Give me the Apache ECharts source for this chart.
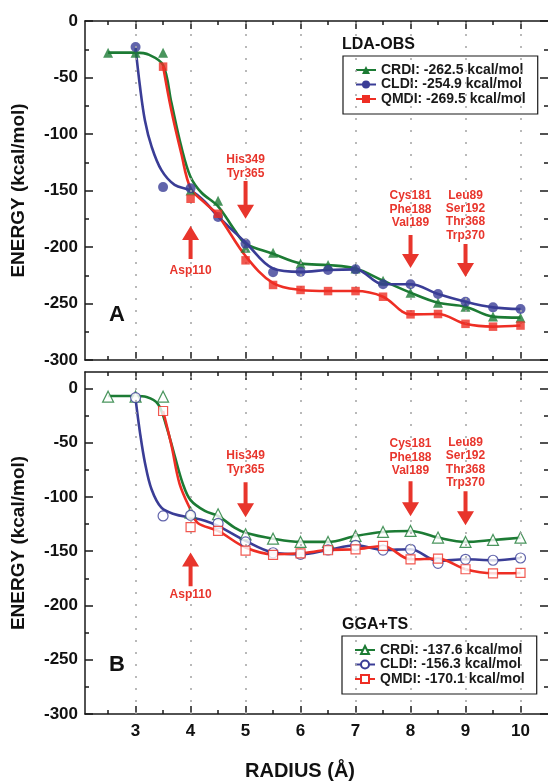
<!DOCTYPE html>
<html><head><meta charset="utf-8">
<script src="https://cdn.jsdelivr.net/npm/echarts@6/dist/echarts.min.js"></script>
<style>html,body{margin:0;padding:0;background:#fff}#c{width:548px;height:782px}</style>
</head><body><div id="c"></div>
<script>
// ---------- tick labels ----------
const xMajorTicks = [3, 4, 5, 6, 7, 8, 9, 10];
const xMinorTicks = [2.5, 3.5, 4.5, 5.5, 6.5, 7.5, 8.5, 9.5];
const yMajorTicks = [0, -50, -100, -150, -200, -250, -300];
const yMinorTicks = [-25, -75, -125, -175, -225, -275];

// ---------- Panel A (LDA-OBS) ----------
const namesA = ['CRDI: -262.5 kcal/mol', 'CLDI: -254.9 kcal/mol', 'QMDI: -269.5 kcal/mol'];
// markers
const aCrdiX = [2.5, 3, 3.5, 4, 4.5, 5, 5.5, 6, 6.5, 7, 7.5, 8, 8.5, 9, 9.5, 10];
const aCrdiY = [-28, -28, -28, -150, -159, -200.6, -205, -214.5, -216, -219, -229.8, -240.4, -249.3, -252.8, -261.6, -262.5];
const aCldiX = [3, 3.5, 4, 4.5, 5, 5.5, 6, 6.5, 7, 7.5, 8, 8.5, 9, 9.5, 10];
const aCldiY = [-23, -147, -148, -173.5, -197, -222.4, -222, -220.4, -219.8, -233, -233, -241.6, -248.4, -253.4, -254.9];
const aQmdiX = [3.5, 4, 4.5, 5, 5.5, 6, 6.5, 7, 7.5, 8, 8.5, 9, 9.5, 10];
const aQmdiY = [-40.4, -157.3, -170.6, -211.8, -233.6, -238, -239, -239, -244, -259.6, -259.3, -268, -270.5, -269.5];
// fitted curves
const aCrdiCurveX = [2.5, 3, 3.25, 3.5, 3.65, 3.83, 4, 4.2, 4.5, 4.8, 5, 5.5, 6, 6.5, 7, 7.5, 8, 8.5, 9, 9.5, 10];
const aCrdiCurveY = [-28, -28, -30, -39, -72, -111, -138, -152, -164, -185, -197, -206, -214.5, -216, -219, -229.8, -240.4, -249.3, -252.8, -261.6, -262.5];
const aCldiCurveX = [3, 3.08, 3.17, 3.29, 3.47, 3.71, 4, 4.26, 4.5, 5, 5.5, 6, 6.5, 7, 7.5, 8, 8.5, 9, 9.5, 10];
const aCldiCurveY = [-24, -58, -88, -111, -132, -145, -150, -160, -173, -196, -219, -222, -220.4, -219.8, -233, -233, -241.6, -248.4, -253.4, -254.9];
const aQmdiCurveX = [3.5, 3.65, 3.83, 4, 4.26, 4.5, 5, 5.5, 6, 6.5, 7, 7.5, 8, 8.5, 9, 9.5, 10];
const aQmdiCurveY = [-40, -79, -117, -148, -161, -172, -208, -232, -238, -239, -239, -244, -259.6, -259.3, -268, -270.5, -269.5];

// ---------- Panel B (GGA+TS) ----------
const namesB = ['CRDI: -137.6 kcal/mol', 'CLDI: -156.3 kcal/mol', 'QMDI: -170.1 kcal/mol'];
const bCrdiX = [2.5, 3, 3.5, 4, 4.5, 5, 5.5, 6, 6.5, 7, 7.5, 8, 8.5, 9, 9.5, 10];
const bCrdiY = [-7.7, -7.7, -7.7, -114.5, -116, -134.5, -138.5, -141.5, -141.5, -136, -132.3, -131.4, -137.5, -141.5, -139.7, -137.6];
const bCldiX = [3, 3.5, 4, 4.5, 5, 5.5, 6, 6.5, 7, 7.5, 8, 8.5, 9, 9.5, 10];
const bCldiY = [-8.6, -117.6, -117, -124.5, -141.5, -151.5, -153, -148.9, -144.6, -149, -148.3, -161.2, -157.5, -158.4, -156.3];
const bQmdiX = [3.5, 4, 4.5, 5, 5.5, 6, 6.5, 7, 7.5, 8, 8.5, 9, 9.5, 10];
const bQmdiY = [-20.9, -127.8, -131.4, -149.5, -153.5, -152, -149.2, -148.3, -145.2, -157.5, -156.9, -166.7, -170.4, -170.1];
const bCrdiCurveX = [2.5, 3, 3.2, 3.41, 3.56, 3.71, 3.86, 4, 4.26, 4.5, 4.8, 5, 5.5, 6, 6.5, 7, 7.5, 8, 8.5, 9, 9.5, 10];
const bCrdiCurveY = [-7.1, -7.1, -8, -14.7, -35, -62, -88, -103, -113, -117.6, -128.3, -133, -138.5, -141.5, -141.5, -136, -132.3, -131.4, -137.5, -141.5, -139.7, -137.6];
const bCldiCurveX = [3, 3.08, 3.17, 3.29, 3.47, 3.71, 4, 4.26, 4.5, 5, 5.5, 6, 6.5, 7, 7.5, 8, 8.5, 9, 9.5, 10];
const bCldiCurveY = [-10, -40.8, -68.5, -93, -110, -116, -119, -122, -126.8, -140.6, -151.3, -152.9, -148.9, -144.6, -148.9, -148.3, -159, -157.5, -158.4, -156.3];
const bQmdiCurveX = [3.5, 3.65, 3.8, 4, 4.13, 4.5, 5, 5.5, 6, 6.5, 7, 7.5, 8, 8.5, 9, 9.5, 10];
const bQmdiCurveY = [-20.9, -52, -88, -112, -124, -131.4, -146.7, -152.9, -152, -148.9, -148.3, -145.2, -157.5, -156.9, -166.7, -170.4, -170.1];

// ---------- annotations ----------
const annotA = [
  { x: 5, lines: ['His349', 'Tyr365'], textY: -129, from: -141.6, to: -175 },
  { x: 4, lines: ['Asp110'], textY: -221, from: -210.6, to: -181.4 },
  { x: 8, lines: ['Cys181', 'Phe188', 'Val189'], textY: -166.8, from: -189.4, to: -218.6 },
  { x: 9, lines: ['Leu89', 'Ser192', 'Thr368', 'Trp370'], textY: -172.1, from: -197.4, to: -226.6 }
];
const annotB = [
  { x: 5, lines: ['His349', 'Tyr365'], textY: -68.6, from: -86.6, to: -118.8 },
  { x: 4, lines: ['Asp110'], textY: -189.7, from: -182.4, to: -151.3 },
  { x: 8, lines: ['Cys181', 'Phe188', 'Val189'], textY: -63.5, from: -85.7, to: -117.9 },
  { x: 9, lines: ['Leu89', 'Ser192', 'Thr368', 'Trp370'], textY: -68.6, from: -94.9, to: -126.2 }
];

// ---------- styling ----------
const COLORS = ['#1c7b34', '#3a3d96', '#ee2e24'];
const SYMBOLS = ['triangle', 'circle', 'rect'];
const ANN_RED = '#e8352c';
const FONT = 'Liberation Sans, Arial, sans-serif';
const AXC = '#1a1a1a';
const X_MIN = 2.08, X_MAX = 10.5;

const zip = (xs, ys) => xs.map((x, i) => [x, ys[i]]);

function makeXAxes(gi, showLabels) {
  const base = { type: 'value', gridIndex: gi, min: X_MIN, max: X_MAX, splitLine: { show: false } };
  const line = { show: true, onZero: false, lineStyle: { color: AXC, width: 1.5 } };
  return [
    Object.assign({}, base, {
      position: 'bottom', axisLine: line,
      axisTick: { inside: true, length: 8, customValues: xMajorTicks, lineStyle: { color: AXC, width: 1.5 } },
      axisLabel: { show: showLabels, customValues: xMajorTicks, margin: 9, color: '#111', fontFamily: FONT, fontWeight: 'bold', fontSize: 17 },
      name: showLabels ? 'RADIUS (Å)' : '', nameLocation: 'middle', nameGap: 47,
      nameTextStyle: { fontFamily: FONT, fontWeight: 'bold', fontSize: 20, color: '#111', padding: [0, 33, 0, 0] }
    }),
    Object.assign({}, base, {
      position: 'bottom', axisLine: { show: false, onZero: false },
      axisTick: { inside: true, length: 4, customValues: xMinorTicks, lineStyle: { color: AXC, width: 1.5 } },
      axisLabel: { show: false }
    }),
    Object.assign({}, base, {
      position: 'top', axisLine: line,
      axisTick: { inside: true, length: 8, customValues: xMajorTicks, lineStyle: { color: AXC, width: 1.5 } },
      axisLabel: { show: false }
    }),
    Object.assign({}, base, {
      position: 'top', axisLine: { show: false, onZero: false },
      axisTick: { inside: true, length: 4, customValues: xMinorTicks, lineStyle: { color: AXC, width: 1.5 } },
      axisLabel: { show: false }
    })
  ];
}
function makeYAxes(gi, maxV) {
  const base = { type: 'value', gridIndex: gi, min: -300, max: maxV, splitLine: { show: false } };
  return [
    Object.assign({}, base, {
      position: 'left', axisLine: { show: true, onZero: false, lineStyle: { color: AXC, width: 1.5 } },
      axisTick: { inside: true, length: 8, customValues: yMajorTicks, lineStyle: { color: AXC, width: 1.5 } },
      axisLabel: { show: true, customValues: yMajorTicks, margin: 7, color: '#111', fontFamily: FONT, fontWeight: 'bold', fontSize: 17 },
      name: 'ENERGY (kcal/mol)', nameLocation: 'middle', nameGap: 57, nameRotate: 90,
      nameTextStyle: { fontFamily: FONT, fontWeight: 'bold', fontSize: 19, color: '#111' }
    }),
    Object.assign({}, base, {
      position: 'left', axisLine: { show: false, onZero: false },
      axisTick: { inside: true, length: 4, customValues: yMinorTicks, lineStyle: { color: AXC, width: 1.5 } },
      axisLabel: { show: false }
    }),
    Object.assign({}, base, {
      position: 'right', axisLine: { show: false, onZero: false },
      axisTick: { inside: true, length: 8, customValues: yMajorTicks, lineStyle: { color: AXC, width: 1.5 } },
      axisLabel: { show: false }
    }),
    Object.assign({}, base, {
      position: 'right', axisLine: { show: false, onZero: false },
      axisTick: { inside: true, length: 4, customValues: yMinorTicks, lineStyle: { color: AXC, width: 1.5 } },
      axisLabel: { show: false }
    })
  ];
}

function panelSeries(p, names, curves, markers, open) {
  const out = [];
  // dotted vertical guide lines at the integer radii
  out.push({
    type: 'line', name: 'guides' + p, xAxisIndex: p * 4, yAxisIndex: p * 4, data: [],
    silent: true, z: 1, animation: false,
    markLine: {
      silent: true, symbol: 'none', label: { show: false }, animation: false,
      lineStyle: { type: [2, 10], color: '#a8a8a8', width: 1.6 },
      emphasis: { disabled: true },
      data: xMajorTicks.map(v => ({ xAxis: v }))
    }
  });
  curves.forEach((c, i) => {
    out.push({
      type: 'line', name: names[i], xAxisIndex: p * 4, yAxisIndex: p * 4,
      data: c, smooth: 0.35, showSymbol: false, symbol: SYMBOLS[i],
      lineStyle: { color: COLORS[i], width: 2.6 },
      itemStyle: open ? { color: '#fff', borderColor: COLORS[i], borderWidth: 1.3 } : { color: COLORS[i] },
      z: 2, silent: true, animation: false
    });
  });
  markers.forEach((m, i) => {
    out.push({
      type: 'scatter', name: names[i], xAxisIndex: p * 4, yAxisIndex: p * 4,
      data: m, symbol: SYMBOLS[i],
      symbolSize: open ? [11, 10, 9][i] : [10, 10, 8.5][i],
      itemStyle: open ? { color: '#fff', borderColor: COLORS[i], borderWidth: 1.2 } : { color: COLORS[i] },
      z: 3 + i, silent: true, animation: false
    });
  });
  return out;
}

const legendBase = {
  orient: 'vertical', itemWidth: 20, itemHeight: 10, itemGap: 0.5,
  padding: [7, 12, 8, 12], borderColor: '#1a1a1a', borderWidth: 1.2, backgroundColor: '#fff',
  textStyle: { fontFamily: FONT, fontWeight: 'bold', fontSize: 14, color: '#1a1a1a', lineHeight: 14 },
  selectedMode: false
};

const option = {
  animation: false,
  backgroundColor: '#fff',
  grid: [
    { left: 85, right: 0, top: 21, height: 339 },
    { left: 85, right: 0, top: 372, height: 343 }
  ],
  xAxis: makeXAxes(0, false).concat(makeXAxes(1, true)),
  yAxis: makeYAxes(0, 0).concat(makeYAxes(1, 15)),
  title: [
    { text: 'LDA-OBS', left: 342, top: 37, padding: 0, textStyle: { fontFamily: FONT, fontWeight: 'bold', fontSize: 16, color: '#111' } },
    { text: 'GGA+TS', left: 342, top: 617, padding: 0, textStyle: { fontFamily: FONT, fontWeight: 'bold', fontSize: 16, color: '#111' } },
    { text: 'A', left: 109, top: 304, padding: 0, textStyle: { fontFamily: FONT, fontWeight: 'bold', fontSize: 22, color: '#111' } },
    { text: 'B', left: 109, top: 654, padding: 0, textStyle: { fontFamily: FONT, fontWeight: 'bold', fontSize: 22, color: '#111' } }
  ],
  legend: [
    Object.assign({}, legendBase, { left: 343, top: 56, data: namesA }),
    Object.assign({}, legendBase, { left: 342, top: 636, data: namesB })
  ],
  series: []
    .concat(panelSeries(0, namesA,
      [zip(aCrdiCurveX, aCrdiCurveY), zip(aCldiCurveX, aCldiCurveY), zip(aQmdiCurveX, aQmdiCurveY)],
      [zip(aCrdiX, aCrdiY), zip(aCldiX, aCldiY), zip(aQmdiX, aQmdiY)], false))
    .concat(panelSeries(1, namesB,
      [zip(bCrdiCurveX, bCrdiCurveY), zip(bCldiCurveX, bCldiCurveY), zip(bQmdiCurveX, bQmdiCurveY)],
      [zip(bCrdiX, bCrdiY), zip(bCldiX, bCldiY), zip(bQmdiX, bQmdiY)], true))
};

const chart = echarts.init(document.getElementById('c'), null, { renderer: 'canvas' });
chart.setOption(option);

// annotations: arrows + residue labels, placed through the axes' scales
const graphics = [];
[annotA, annotB].forEach((list, p) => {
  const finder = { xAxisIndex: p * 4, yAxisIndex: p * 4 };
  list.forEach(a => {
    const t = chart.convertToPixel(finder, [a.x, a.textY]);
    graphics.push({
      type: 'text', x: t[0], y: t[1], z: 20,
      style: { text: a.lines.join('\n'), fill: ANN_RED, font: 'bold 12px ' + FONT, align: 'center', verticalAlign: 'middle', lineHeight: 13.3 }
    });
    const s = chart.convertToPixel(finder, [a.x, a.from]);
    const e = chart.convertToPixel(finder, [a.x, a.to]);
    const dir = e[1] > s[1] ? 1 : -1;
    const headLen = 14, headHalf = 8.5, shaft = 2;
    const baseY = e[1] - dir * headLen;
    const x = s[0];
    graphics.push({
      type: 'polygon', z: 20,
      shape: { points: [[x - shaft, s[1]], [x + shaft, s[1]], [x + shaft, baseY], [x + headHalf, baseY], [x, e[1]], [x - headHalf, baseY], [x - shaft, baseY]] },
      style: { fill: ANN_RED }
    });
  });
});
chart.setOption({ graphic: graphics });
</script>
</body></html>
